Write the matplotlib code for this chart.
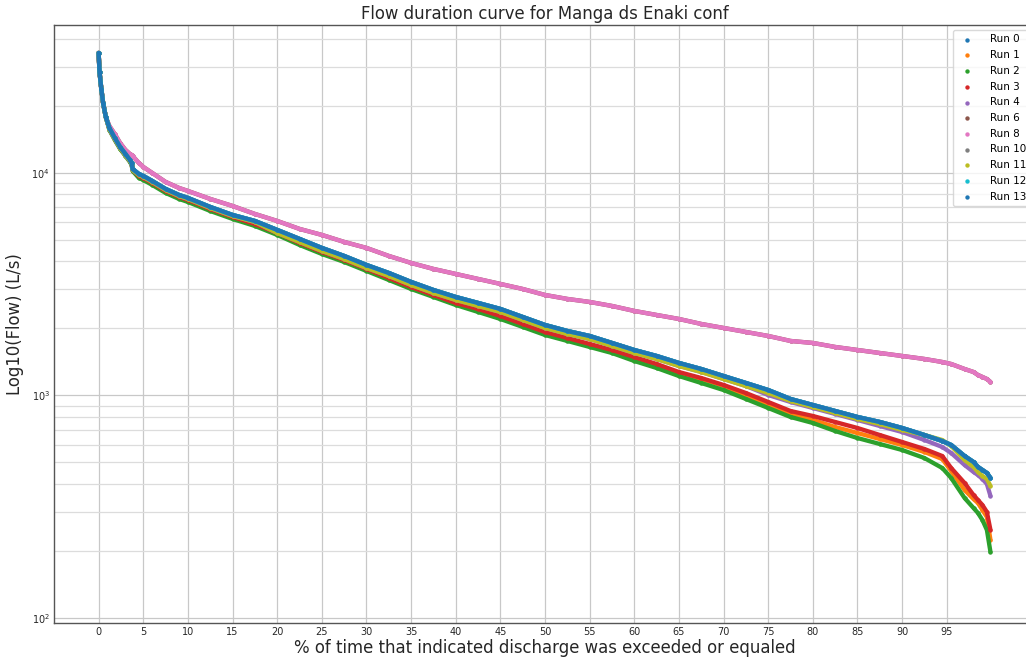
import matplotlib
matplotlib.use("Agg")
import matplotlib.pyplot as plt

# % of time exceeded (shared sample positions)
pct = [0, 0.1, 0.3, 0.5, 0.8, 1.2, 1.8, 2.4, 3.0, 3.5, 3.7, 3.8, 4.5, 5, 6, 7.5, 9, 10,
       12.5, 15, 17.5, 20, 22.5, 25, 27.5, 30, 32.5, 35, 37.5, 40, 42.5, 45, 47.5, 50,
       52.5, 55, 57.5, 60, 62.5, 65, 67.5, 70, 72.5, 75, 77.5, 80, 82.5, 85, 87.5, 90,
       92.5, 94.5, 95.5, 97, 98, 98.5, 99, 99.5, 99.9]

run_0 = [34600, 28400, 23850, 20640, 17850, 15930, 14370, 13090, 12170, 11440, 11090, 10420,
         9896, 9694, 9205, 8473, 7962, 7719, 7031, 6474, 6084, 5545, 5052, 4603, 4236, 3859,
         3552, 3237, 2979, 2771, 2605, 2448, 2253, 2074, 1949, 1851, 1722, 1601, 1505, 1400,
         1315, 1223, 1138, 1058, 964.5, 906.3, 851.7, 800.6, 760.2, 714.4, 664.4, 624.4,
         599.2, 534.6, 502.5, 477.2, 462.6, 448.5, 425.9]

run_1 = [34600, 28400, 23850, 20640, 17850, 15770, 14220, 12960, 12040, 11320, 10980, 10310,
         9594, 9397, 8924, 8214, 7720, 7483, 6816, 6277, 5837, 5319, 4796, 4370, 4021, 3665,
         3339, 3041, 2800, 2578, 2423, 2254, 2074, 1909, 1794, 1686, 1585, 1474, 1371, 1262,
         1186, 1104, 1000, 906.3, 825.9, 776.1, 721.8, 678.4, 637.6, 599.2, 557.3, 518.3,
         457.8, 376.0, 342.6, 328.7, 305.8, 284.4, 224.1]

run_2 = [34600, 28400, 23850, 20640, 17850, 15610, 14070, 12820, 11920, 11200, 10860, 10210,
         9495, 9300, 8832, 8129, 7640, 7406, 6746, 6213, 5777, 5266, 4747, 4324, 3981, 3627,
         3304, 3010, 2771, 2551, 2373, 2207, 2032, 1870, 1758, 1652, 1552, 1429, 1329, 1223,
         1138, 1058, 964.5, 878.7, 800.6, 752.4, 692.6, 644.0, 605.3, 569.0, 523.6, 472.2,
         425.9, 346.2, 312.2, 296.4, 275.7, 248.6, 198.0]

run_3 = [34600, 28400, 23850, 20640, 17850, 15770, 14220, 12960, 12040, 11320, 10980, 10310,
         9694, 9495, 9017, 8299, 7800, 7561, 6887, 6342, 5898, 5374, 4846, 4415, 4063, 3703,
         3374, 3073, 2829, 2605, 2448, 2277, 2096, 1929, 1813, 1704, 1601, 1489, 1385, 1275,
         1198, 1115, 1026, 934.9, 851.7, 809.0, 760.2, 714.4, 664.4, 618.0, 574.9, 534.6,
         472.2, 404.4, 357.1, 339.1, 322.0, 299.5, 248.6]

run_4 = [34600, 28400, 23850, 20640, 17850, 15770, 14220, 12960, 12040, 11320, 10980, 10310,
         9794, 9594, 9110, 8386, 7880, 7640, 6958, 6407, 6021, 5374, 4897, 4461, 4106, 3741,
         3444, 3138, 2888, 2687, 2525, 2373, 2184, 2011, 1890, 1794, 1669, 1552, 1459, 1357,
         1275, 1186, 1103, 1005, 934.9, 878.7, 825.9, 776.1, 729.4, 685.4, 630.9, 586.9,
         551.5, 487.1, 453.2, 439.1, 421.3, 400.2, 353.4]

run_8 = [34600, 28400, 23850, 20640, 17850, 16260, 14970, 13640, 12690, 12170, 12040, 11920,
         11090, 10640, 10000, 9111, 8561, 8299, 7640, 7104, 6542, 6084, 5603, 5266, 4897, 4603,
         4236, 3940, 3703, 3516, 3339, 3171, 3010, 2829, 2715, 2632, 2525, 2398, 2300, 2207,
         2096, 2011, 1929, 1851, 1758, 1722, 1652, 1601, 1552, 1505, 1459, 1414, 1385, 1315,
         1275, 1236, 1211, 1186, 1150]
run_6 = list(run_8)

run_11 = [34600, 28400, 23850, 20640, 17850, 15770, 14220, 12960, 12040, 11320, 10980, 10310,
          9794, 9594, 9110, 8386, 7880, 7640, 6958, 6407, 6021, 5374, 4897, 4461, 4106, 3741,
          3444, 3138, 2888, 2687, 2525, 2373, 2184, 2011, 1890, 1794, 1669, 1552, 1459, 1357,
          1275, 1186, 1103, 1026, 944.6, 887.8, 834.3, 784.2, 744.6, 699.7, 664.4, 630.9,
          593.0, 513.0, 477.2, 453.2, 434.6, 421.3, 392.0]

run_10 = list(run_0)
run_12 = list(run_0)
run_13 = list(run_0)

run_names = ["Run 0", "Run 1", "Run 2", "Run 3", "Run 4", "Run 6", "Run 8",
             "Run 10", "Run 11", "Run 12", "Run 13"]
run_values = [run_0, run_1, run_2, run_3, run_4, run_6, run_8,
              run_10, run_11, run_12, run_13]
xtick_values = list(range(0, 100, 5))

TITLE = "Flow duration curve for Manga ds Enaki conf"
XLABEL = "% of time that indicated discharge was exceeded or equaled"
YLABEL = "Log10(Flow) (L/s)"

plt.rcParams["font.family"] = ["DejaVu Sans"]
fig = plt.figure(figsize=(10.26, 6.64), dpi=100)
W, H = 1026, 664
ax = fig.add_axes([54 / W, (H - 623) / H, (1036 - 54) / W, (623 - 25) / H])

colors = plt.rcParams["axes.prop_cycle"].by_key()["color"]
for i, (name, vals) in enumerate(zip(run_names, run_values)):
    c = colors[i % len(colors)]
    ax.plot(pct, vals, color=c, lw=3.1, solid_capstyle="round",
            solid_joinstyle="round", zorder=2 + i * 0.1)
    ax.scatter(pct, vals, s=10, color=c, label=name, zorder=2.05 + i * 0.1, linewidths=0)

ax.set_yscale("log")
ax.set_xlim(-5, 105)
ax.set_ylim(95, 46200)
ax.set_xticks(xtick_values)
ax.tick_params(axis="both", which="both", length=0, labelsize=7, colors="#262626", pad=3)

ax.grid(True, which="major", color="#c8c8c8", lw=0.9)
ax.grid(True, which="minor", axis="y", color="#dcdcdc", lw=0.9)
ax.set_axisbelow(True)
for s in ax.spines.values():
    s.set_color("#555555")
    s.set_linewidth(1.0)

ax.set_title(TITLE, fontsize=11.9, color="#262626", pad=4)
ax.set_xlabel(XLABEL, fontsize=11.9, color="#262626", labelpad=1)
ax.set_ylabel(YLABEL, fontsize=11.9, color="#262626", labelpad=5)

leg = ax.legend(loc="upper right", fontsize=7.5, markerscale=1.0, frameon=True,
                borderaxespad=0.5, handletextpad=1.2, labelspacing=0.55,
                scatterpoints=1, fancybox=True)
leg.get_frame().set_edgecolor("#d0d0d0")

fig.savefig("out.png", dpi=100)
